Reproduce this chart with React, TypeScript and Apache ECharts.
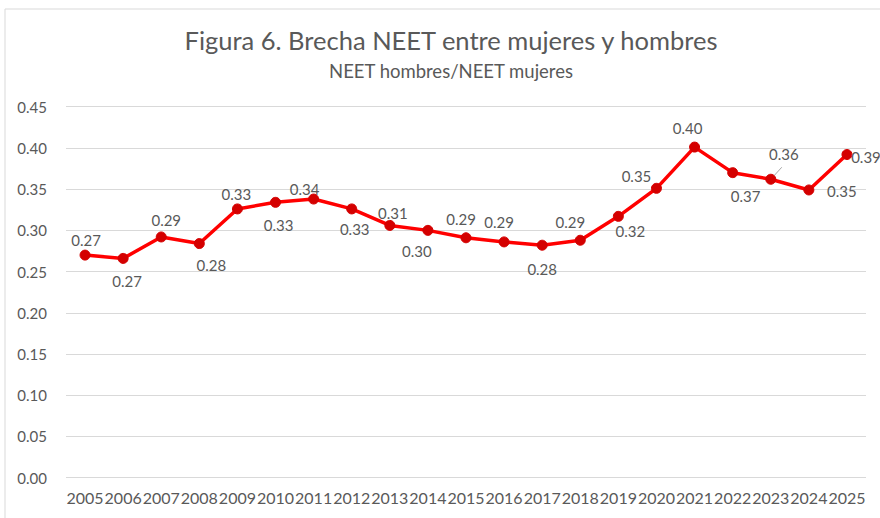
import React, { useEffect, useRef } from "react";
import * as echarts from "echarts";

const years = ["2005","2006","2007","2008","2009","2010","2011","2012","2013","2014","2015","2016","2017","2018","2019","2020","2021","2022","2023","2024","2025"];
const ratio = [0.270,0.266,0.292,0.284,0.326,0.334,0.338,0.326,0.306,0.300,0.291,0.286,0.282,0.288,0.317,0.351,0.401,0.370,0.362,0.349,0.392];
const labelOffsets: number[][] = [[1,-15],[4,23],[5,-17],[12,21],[-1,-15],[3,23],[-9,-10],[3,20],[3,-12],[-11,21],[-5,-19],[-5,-20],[0,24],[-10,-18],[12,15],[-20,-12],[-7,-19],[13,23],[13,-25],[33,1],[19,2]];
const leaderIndex = 18;
const yTicks = { min: 0, max: 0.45, interval: 0.05 };
const titleText = "Figura 6. Brecha NEET entre mujeres y hombres";
const subtitleText = "NEET hombres/NEET mujeres";

const FONT = "Lato";
const GRAY = "#595959";

export default function App() {
  const ref = useRef<HTMLDivElement>(null);
  useEffect(() => {
    const chart = echarts.init(ref.current!, null, { renderer: "svg" });
    chart.setOption({
      animation: false,
      backgroundColor: "#ffffff",
      title: {
        text: titleText,
        subtext: subtitleText,
        left: 446,
        textAlign: "center",
        top: 22,
        itemGap: 8,
        textStyle: { fontFamily: FONT, fontSize: 25.5, fontWeight: "normal", color: GRAY },
        subtextStyle: { fontFamily: FONT, fontSize: 18.5, color: GRAY },
      },
      graphic: [
        {
          id: "border",
          type: "rect",
          shape: { x: 5, y: 9, width: 1000, height: 1000 },
          style: { fill: "none", stroke: "#d9d9d9", lineWidth: 1 },
          silent: true,
          z: -1,
        },
      ],
      grid: { left: 66, right: 14, top: 106.7, bottom: 40.3, containLabel: false },
      xAxis: {
        type: "category",
        data: years,
        boundaryGap: true,
        axisLine: { show: false },
        axisTick: { show: false },
        axisLabel: { interval: 0, color: GRAY, fontFamily: FONT, fontSize: 16, margin: 12 },
      },
      yAxis: {
        type: "value",
        min: yTicks.min,
        max: yTicks.max,
        interval: yTicks.interval,
        axisLine: { show: false },
        axisTick: { show: false },
        splitLine: { lineStyle: { color: "#d9d9d9", width: 1 } },
        axisLabel: {
          color: GRAY,
          fontFamily: FONT,
          fontSize: 15,
          margin: 19,
          formatter: (v: number) => v.toFixed(2),
        },
      },
      series: [
        {
          type: "line",
          data: ratio.map((v, i) => ({
            value: v,
            label: { offset: labelOffsets[i] },
          })),
          lineStyle: { color: "#ff0000", width: 3.5 },
          itemStyle: { color: "#d40000", borderColor: "#d40000" },
          symbol: "circle",
          symbolSize: 10,
          label: {
            show: true,
            position: "inside",
            align: "center",
            verticalAlign: "middle",
            color: GRAY,
            fontFamily: FONT,
            fontSize: 15,
            formatter: (p: any) => (p.value as number).toFixed(2),
          },
        },
      ],
    });
    const p = chart.convertToPixel({ seriesIndex: 0 }, [leaderIndex, ratio[leaderIndex]]) as number[];
    chart.setOption({
      graphic: [
        {
          id: "leader",
          type: "line",
          shape: { x1: p[0] + 1, y1: p[1] - 1, x2: p[0] + 11, y2: p[1] - 12 },
          style: { stroke: "#a6a6a6", lineWidth: 1 },
          silent: true,
          z: 1,
        },
      ],
    });
    return () => chart.dispose();
  }, []);
  return (
    <div
      ref={ref}
      style={{ position: "fixed", left: 0, top: 0, width: 880, height: 518 }}
    />
  );
}
